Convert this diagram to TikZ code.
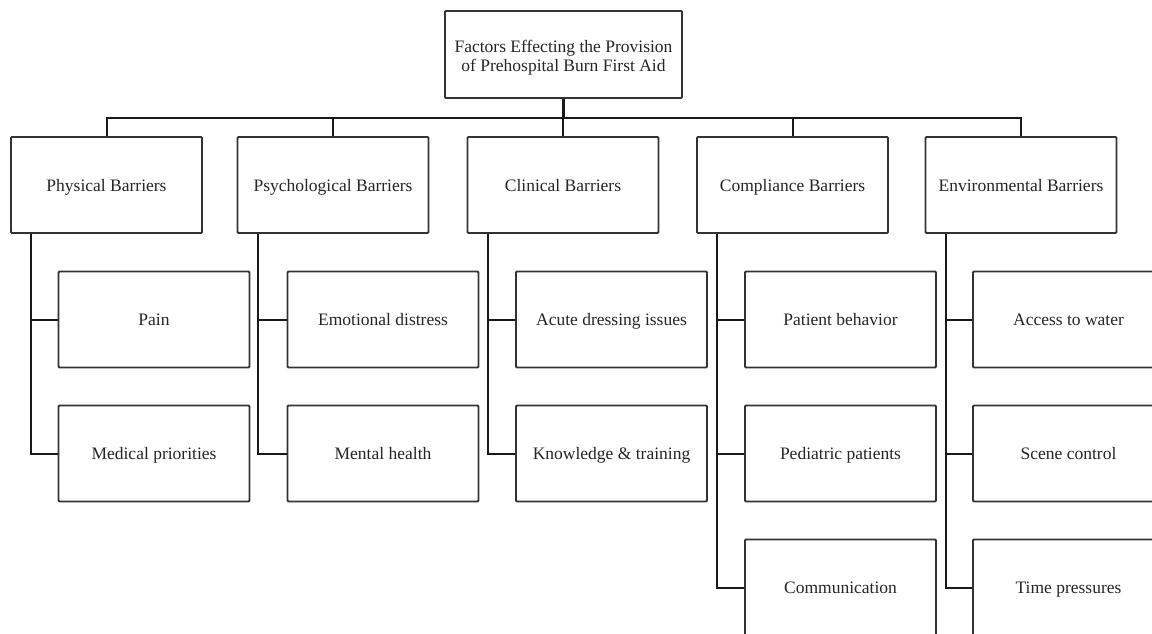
\documentclass[tikz,border=0pt]{standalone}
\usepackage{fontspec}
\setmainfont{Liberation Serif}
\begin{document}
\begin{tikzpicture}[x=1pt,y=-1pt,
  box/.style={draw=black!80,line width=1.9pt,rounded corners=1pt,fill=white,
    minimum width=191pt,minimum height=96pt,inner sep=0pt,align=center,
    text height=16pt,text depth=4pt,
    font=\fontsize{17.5}{19}\selectfont,text=black!85},
  rootbox/.style={box,minimum width=237pt,minimum height=87pt,text height=36pt,text depth=3pt},
  link/.style={draw=black!90,line width=2pt}]
\useasboundingbox (0,0) rectangle (1152,634);
\clip (0,0) rectangle (1152,634);
\node[rootbox] (root) at (563.5,54.5) {Factors Effecting the Provision\\of Prehospital Burn First Aid};
\node[box] (phy) at (106.5,185) {Physical Barriers};
\node[box] (psy) at (333,185) {Psychological Barriers};
\node[box] (cli) at (563,185) {Clinical Barriers};
\node[box] (com) at (792.5,185) {Compliance Barriers};
\node[box] (env) at (1021,185) {Environmental Barriers};
\coordinate (bus) at (0,118);
\draw[link,line width=3pt] (root.south) -- (root.south |- bus);
\draw[link] (phy.north) |- (bus -| env.north) -- (env.north);
\foreach \n in {psy,cli,com}{\draw[link] (\n.north) -- (\n.north |- bus);}
% children
\node[box] (pain) at (154,319.5) {Pain};
\node[box] (med) at (154,453.5) {Medical priorities};
\node[box] (emo) at (383,319.5) {Emotional distress};
\node[box] (men) at (383,453.5) {Mental health};
\node[box] (acu) at (611.5,319.5) {Acute dressing issues};
\node[box] (kno) at (611.5,453.5) {Knowledge \& training};
\node[box] (pat) at (840.5,319.5) {Patient behavior};
\node[box] (ped) at (840.5,453.5) {Pediatric patients};
\node[box] (cmm) at (840.5,587.5) {Communication};
\node[box] (wat) at (1068.5,319.5) {Access to water};
\node[box] (sce) at (1068.5,453.5) {Scene control};
\node[box] (tim) at (1068.5,587.5) {Time pressures};
\foreach \p/\c in {phy/pain,phy/med,psy/emo,psy/men,cli/acu,cli/kno,com/pat,com/ped,com/cmm,env/wat,env/sce,env/tim}{
  \draw[link] ([xshift=21pt]\p.south west) |- (\c.west);
}
\end{tikzpicture}
\end{document}
